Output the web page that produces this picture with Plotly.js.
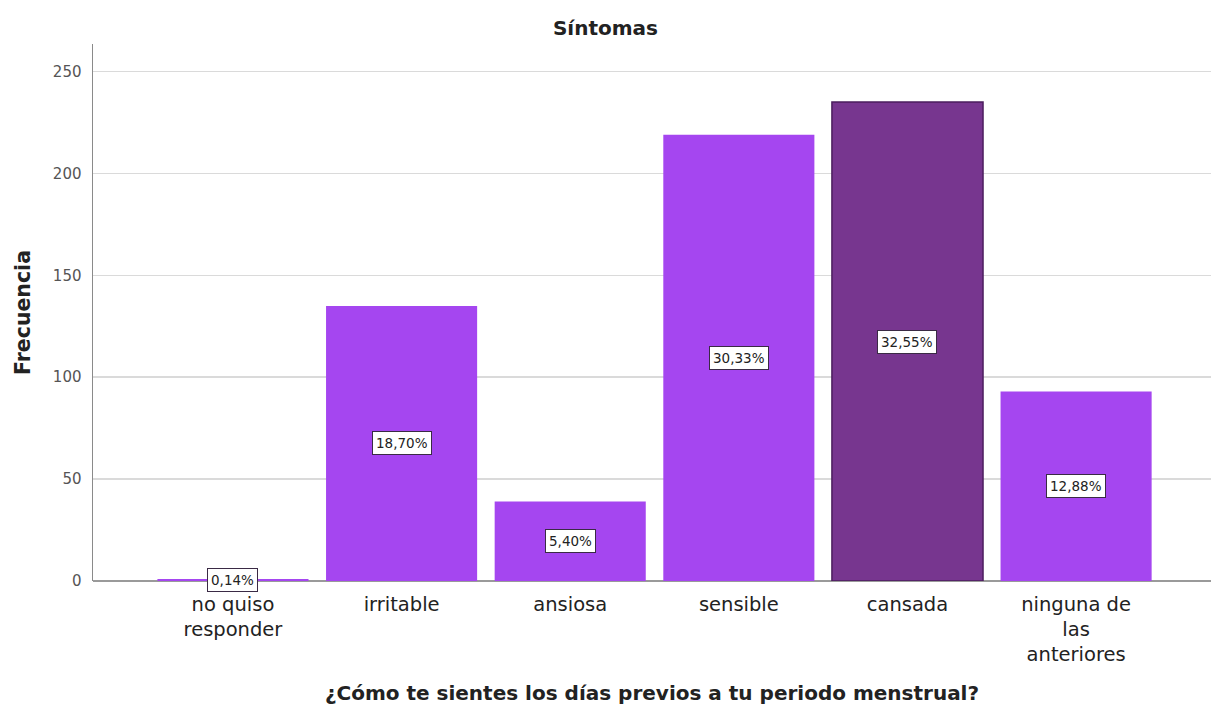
<!DOCTYPE html>
<html>
<head>
<meta charset="utf-8">
<script src="https://cdn.plot.ly/plotly-3.0.1.min.js"></script>
<style>html,body{margin:0;padding:0;background:#fff;}#chart{width:1211px;height:709px;}</style>
</head>
<body>
<div id="chart"></div>
<script>
var categories = ["no quiso<br>responder", "irritable", "ansiosa", "sensible", "cansada", "ninguna de<br>las<br>anteriores"];
var frequencies = [1, 135, 39, 219, 235, 93];
var percentLabels = ["0,14%", "18,70%", "5,40%", "30,33%", "32,55%", "12,88%"];
var highlighted = "cansada";

var baseColor = "#A546F0";
var highColor = "#77368F";
var colors = categories.map(function(c){ return c === highlighted ? highColor : baseColor; });
var lineColors = categories.map(function(c){ return c === highlighted ? "#4B1E5E" : baseColor; });
var lineWidths = categories.map(function(c){ return c === highlighted ? 1.5 : 0; });

var trace = {
  type: "bar",
  x: categories,
  y: frequencies,
  marker: {color: colors, line: {color: lineColors, width: lineWidths}},
  hoverinfo: "x+y",
  showlegend: false
};

var annotations = categories.map(function(c, i){
  return {
    x: c, y: frequencies[i] / 2, xref: "x", yref: "y",
    text: percentLabels[i], showarrow: false,
    font: {family: "DejaVu Sans", size: 13.5, color: "#222"},
    bgcolor: "#ffffff", bordercolor: "#3a2a45", borderwidth: 1, borderpad: 3
  };
});

var layout = {
  width: 1211, height: 709,
  margin: {l: 93, r: 0, t: 44, b: 128},
  paper_bgcolor: "#ffffff", plot_bgcolor: "#ffffff",
  font: {family: "DejaVu Sans", color: "#222"},
  title: {text: "<b>Síntomas</b>", font: {family: "DejaVu Sans", size: 20, color: "#222"},
          x: 0.5, xref: "container", xanchor: "center", y: 1 - 28/709, yref: "container", yanchor: "middle"},
  bargap: 0.104,
  xaxis: {
    type: "category",
    range: [-0.83, 5.80],
    showgrid: false, zeroline: false,
    showline: false,
    ticks: "", ticklabelstandoff: 9,
    tickfont: {family: "DejaVu Sans", size: 19.5, color: "#222"},
    title: {text: "<b>¿Cómo te sientes los días previos a tu periodo menstrual?</b>",
            font: {family: "DejaVu Sans", size: 20, color: "#222"}, standoff: 20},
    automargin: false, fixedrange: true
  },
  yaxis: {
    range: [0, 263.5],
    tickvals: [0, 50, 100, 150, 200, 250],
    ticktext: ["0", "50", "100", "150", "200", "250"],
    showgrid: true, gridcolor: "#dadada", gridwidth: 1.5,
    zeroline: true, zerolinecolor: "#9a9a9a", zerolinewidth: 2,
    showline: true, linecolor: "#8a8a8a", linewidth: 1.5,
    ticks: "", ticklabelstandoff: 7,
    tickfont: {family: "DejaVu Sans", size: 15, color: "#555"},
    title: {text: "<b>Frecuencia</b>", font: {family: "DejaVu Sans", size: 20.5, color: "#222"}, standoff: 16},
    automargin: false, fixedrange: true
  },
  annotations: annotations
};

Plotly.newPlot("chart", [trace], layout, {displayModeBar: false, staticPlot: true});
</script>
</body>
</html>
